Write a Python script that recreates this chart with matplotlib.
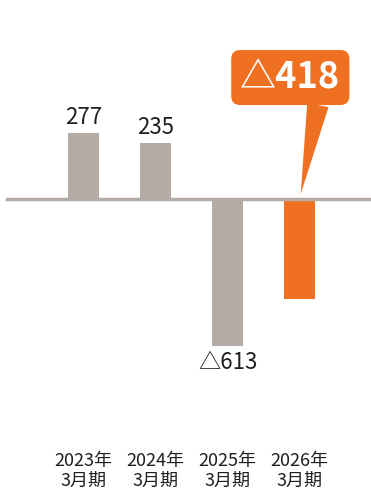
import numpy as np
import matplotlib.pyplot as plt
import matplotlib.transforms as mtransforms

plt.rcParams['font.family'] = ['Noto Sans CJK JP', 'DejaVu Sans']

periods = ["2023年\n3月期", "2024年\n3月期", "2025年\n3月期", "2026年\n3月期"]
values = [277, 235, -613, -418]
labels = ["277", "235", "△613", "△418"]

grey = "#b4aba7"
orange = "#f07022"
ink = "#231f20"

fig = plt.figure(figsize=(3.71, 4.91), dpi=100)
ax = fig.add_axes([0, 0, 1, 1])
ax.set_xlim(-1.16, 3.99)
ax.set_ylim(-1222, 836)
ax.axis("off")

x = np.arange(len(values))
colors = [grey, grey, grey, orange]
ax.bar(x, values, width=0.43, color=colors, zorder=2)
ax.axhline(0, xmin=0.02, xmax=1, color=grey, lw=2.5, zorder=3)

# plain value labels above / below the bars
for i in range(3):
    v = values[i]
    off = 3.5 if v > 0 else -4
    ax.annotate(labels[i], (x[i], v), xytext=(0, off), textcoords="offset points",
                ha="center", va="bottom" if v > 0 else "top",
                fontsize=16, color=ink)

# callout for the latest period
ax.annotate(labels[3], xy=(x[3], 0), xytext=(x[3] - 0.13, 511),
            ha="center", va="center", fontsize=26, fontweight="bold", color="white",
            bbox=dict(boxstyle="round,pad=0.25,rounding_size=0.25", fc=orange, ec="none"),
            arrowprops=dict(arrowstyle="wedge,tail_width=0.6", fc=orange, ec="none",
                            relpos=(0.8, 0.1), shrinkA=0, shrinkB=4),
            zorder=5)

trans = mtransforms.blended_transform_factory(ax.transData, ax.transAxes)
for i, p in enumerate(periods):
    ax.text(x[i], 0.041, p, transform=trans, ha="center", va="center",
            fontsize=13, color=ink, linespacing=1.1)

ax.text(0.04, 1.0, "（億円）", transform=ax.transAxes, ha="left", va="bottom",
        fontsize=12, color=ink)

fig.savefig("out.png", dpi=100)
